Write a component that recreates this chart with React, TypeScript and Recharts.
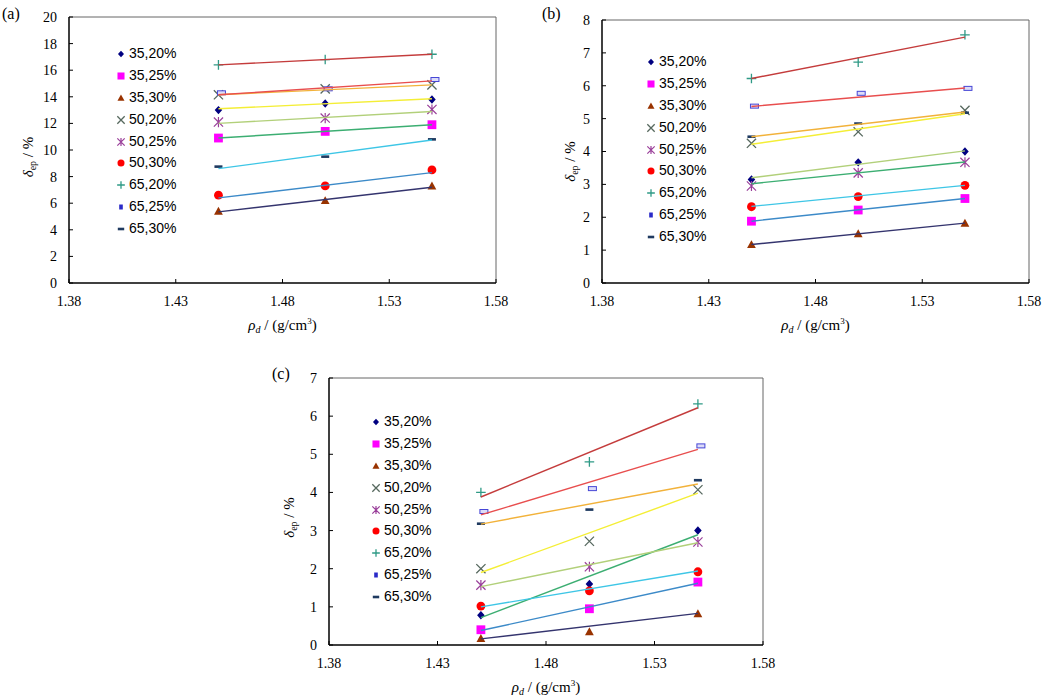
import React from 'react';
import { ScatterChart, Scatter, XAxis, YAxis, Legend, ReferenceLine } from 'recharts';

// ---------- data ----------
const seriesNames = ['35,20%', '35,25%', '35,30%', '50,20%', '50,25%', '50,30%', '65,20%', '65,25%', '65,30%'];
const densities = [1.45, 1.5, 1.55];
const trendEnds = [1.45, 1.55];
const xTicks = [1.38, 1.43, 1.48, 1.53, 1.58];
const yTicksA = [0, 2, 4, 6, 8, 10, 12, 14, 16, 18, 20];
const yTicksB = [0, 1, 2, 3, 4, 5, 6, 7, 8];
const yTicksC = [0, 1, 2, 3, 4, 5, 6, 7];

// measured values (rows follow seriesNames)
const pointsA = [
  [13.0, 13.5, 13.8],
  [10.9, 11.4, 11.9],
  [5.4, 6.2, 7.3],
  [14.15, 14.6, 14.9],
  [12.1, 12.4, 13.05],
  [6.6, 7.3, 8.5],
  [16.4, 16.8, 17.2],
  [14.3, 14.6, 15.3],
  [8.75, 9.5, 10.8],
];
const trendA = [
  [13.1, 13.85],
  [10.9, 11.9],
  [5.35, 7.2],
  [14.15, 14.9],
  [12.0, 12.9],
  [6.4, 8.3],
  [16.4, 17.2],
  [14.15, 15.2],
  [8.6, 10.75],
];
const pointsB = [
  [3.15, 3.67, 4.0],
  [1.88, 2.22, 2.57],
  [1.17, 1.5, 1.82],
  [4.25, 4.6, 5.25],
  [2.95, 3.35, 3.67],
  [2.32, 2.63, 2.97],
  [6.22, 6.72, 7.55],
  [5.38, 5.77, 5.92],
  [4.45, 4.85, 5.18],
];
const trendB = [
  [3.2, 4.02],
  [1.88, 2.57],
  [1.17, 1.82],
  [4.22, 5.15],
  [3.02, 3.68],
  [2.33, 2.97],
  [6.22, 7.48],
  [5.37, 5.93],
  [4.45, 5.2],
];
const pointsC = [
  [0.78, 1.6, 3.0],
  [0.4, 0.95, 1.65],
  [0.17, 0.35, 0.82],
  [2.0, 2.72, 4.07],
  [1.57, 2.05, 2.7],
  [1.02, 1.42, 1.92],
  [4.0, 4.8, 6.32],
  [3.5, 4.1, 5.22],
  [3.18, 3.55, 4.32],
];
const trendC = [
  [0.72, 2.89],
  [0.38, 1.62],
  [0.16, 0.83],
  [1.9, 3.98],
  [1.53, 2.68],
  [1.0, 1.94],
  [3.88, 6.22],
  [3.41, 5.13],
  [3.17, 4.22],
];

// ---------- styles ----------
const TC = {
  darkred: '#C43C3C',
  red: '#E84E4E',
  orange: '#F2B23A',
  yellow: '#F4EE36',
  lightgreen: '#B2D07A',
  green: '#3CAE72',
  cyan: '#3EC6E6',
  blue: '#3C8AC8',
  navy: '#34346E',
};
const trendColorsA = [TC.yellow, TC.green, TC.navy, TC.orange, TC.lightgreen, TC.blue, TC.darkred, TC.red, TC.cyan];
const trendColorsB = [TC.lightgreen, TC.blue, TC.navy, TC.yellow, TC.green, TC.cyan, TC.darkred, TC.red, TC.orange];
const trendColorsC = [TC.green, TC.blue, TC.navy, TC.yellow, TC.lightgreen, TC.cyan, TC.darkred, TC.red, TC.orange];

type Kind = 'diamond' | 'square' | 'triangle' | 'cross' | 'star' | 'circle' | 'plus' | 'rect' | 'dash';
const markerKinds: Kind[] = ['diamond', 'square', 'triangle', 'cross', 'star', 'circle', 'plus', 'rect', 'dash'];

function drawMarker(kind: Kind, cx: number, cy: number, s: number, legend = false) {
  switch (kind) {
    case 'diamond': {
      const h = 4.2 * s;
      return <path d={`M${cx},${cy - h}L${cx + h * 0.9},${cy}L${cx},${cy + h}L${cx - h * 0.9},${cy}Z`} fill="#000080" />;
    }
    case 'square': {
      const h = 4.4 * s;
      return <rect x={cx - h} y={cy - h} width={2 * h} height={2 * h} fill="#FF00FF" />;
    }
    case 'triangle': {
      const h = 4.4 * s;
      return <path d={`M${cx},${cy - h}L${cx + h},${cy + h * 0.8}L${cx - h},${cy + h * 0.8}Z`} fill="#993300" />;
    }
    case 'cross': {
      const h = 4.6 * s;
      return (
        <path d={`M${cx - h},${cy - h}L${cx + h},${cy + h}M${cx - h},${cy + h}L${cx + h},${cy - h}`} stroke="#56685E" strokeWidth={1.3} fill="none" />
      );
    }
    case 'star': {
      const h = 4.6 * s;
      return (
        <path
          d={`M${cx - h},${cy - h}L${cx + h},${cy + h}M${cx - h},${cy + h}L${cx + h},${cy - h}M${cx},${cy - h * 1.1}L${cx},${cy + h * 1.1}`}
          stroke="#9A3F9A"
          strokeWidth={1.2}
          fill="none"
        />
      );
    }
    case 'circle':
      return <circle cx={cx} cy={cy} r={4.4 * s} fill="#FF0000" />;
    case 'plus': {
      const h = 4.8 * s;
      return <path d={`M${cx - h},${cy}L${cx + h},${cy}M${cx},${cy - h}L${cx},${cy + h}`} stroke="#2F9A86" strokeWidth={1.3} fill="none" />;
    }
    case 'rect':
      if (legend) return <rect x={cx - 1.8} y={cy - 2.5} width={3.6} height={5} fill="#2A2AC8" />;
      return <rect x={cx - 1} y={cy - 2} width={8} height={4} fill="#DCDCF8" stroke="#4646D6" strokeWidth={1} />;
    case 'dash':
      return <rect x={cx - 4 * s} y={cy - 1.3} width={8 * s} height={2.6} fill="#1F3A60" />;
    default:
      return null;
  }
}

const makeShape = (kind: Kind) => (props: any) => {
  const { cx, cy } = props;
  if (cx == null || cy == null) return <g />;
  return <g>{drawMarker(kind, cx, cy, 1)}</g>;
};
const EmptyShape = () => <g />;

const serif = 'Liberation Serif, Times New Roman, serif';
const sans = 'Liberation Sans, Arial, sans-serif';
const serifStyle = { fontFamily: serif };

function LegendBox() {
  return (
    <div style={{ fontFamily: sans, fontSize: 14, color: '#000', lineHeight: '21.9px' }}>
      {seriesNames.map((n, i) => (
        <div key={n} style={{ display: 'flex', alignItems: 'center', height: 21.9, whiteSpace: 'nowrap' }}>
          <svg width={12} height={12} style={{ display: 'block', marginRight: 2 }}>
            {drawMarker(markerKinds[i], 6, 6, 0.8, true)}
          </svg>
          <span>{n}</span>
        </div>
      ))}
    </div>
  );
}

type PanelProps = {
  tag: string;
  points: number[][];
  trends: number[][];
  trendColors: string[];
  yMax: number;
  yTicks: number[];
  width: number;
  height: number;
  margin: { top: number; right: number; bottom: number; left: number };
  yAxisWidth: number;
  legendLeft: number;
  legendTop: number;
  yTitleOffset: number;
  yTitleDy: number;
  xTitleDy: number;
  tagX: number;
  tagY: number;
};

function Panel(p: PanelProps) {
  const xTitle = (props: any) => {
    const vb = props.viewBox || {};
    const cx = vb.x + vb.width / 2;
    const y = vb.y + p.xTitleDy;
    return (
      <text x={cx} y={y} textAnchor="middle" fontFamily={serif} style={serifStyle} fontSize={15} fill="#000">
        <tspan fontStyle="italic">ρ</tspan>
        <tspan fontStyle="italic" fontSize={10} dy={3}>d</tspan>
        <tspan dy={-3}> / (g/cm</tspan>
        <tspan fontSize={9} dy={-6}>3</tspan>
        <tspan dy={6}>)</tspan>
      </text>
    );
  };
  const yTitle = (props: any) => {
    const vb = props.viewBox || {};
    const cx = vb.x + vb.width - p.yTitleOffset + 5;
    const cy = vb.y + vb.height / 2 + p.yTitleDy;
    return (
      <text x={cx} y={cy} transform={`rotate(-90 ${cx} ${cy})`} textAnchor="middle" fontFamily={serif} style={serifStyle} fontSize={15} fill="#000">
        <tspan fontStyle="italic">δ</tspan>
        <tspan fontSize={10} dy={3}>ep</tspan>
        <tspan dy={-3}> / %</tspan>
      </text>
    );
  };
  const tickStyle = { fontFamily: serif, fontSize: 14, fill: '#000', style: serifStyle };
  return (
    <ScatterChart width={p.width} height={p.height} margin={p.margin} style={serifStyle}>
      <XAxis
        type="number"
        dataKey="x"
        domain={[1.38, 1.58]}
        ticks={xTicks}
        allowDataOverflow
        tickFormatter={(v: number) => v.toFixed(2)}
        tick={tickStyle}
        axisLine={{ stroke: '#000', strokeWidth: 1.5 }}
        tickLine={{ stroke: '#000' }}
        tickSize={-4}
        tickMargin={17}
        height={30}
        label={xTitle}
      />
      <YAxis
        type="number"
        dataKey="y"
        domain={[0, p.yMax]}
        ticks={p.yTicks}
        allowDataOverflow
        tick={tickStyle}
        axisLine={{ stroke: '#000', strokeWidth: 1.5 }}
        tickLine={{ stroke: '#000' }}
        tickSize={-4}
        tickMargin={16}
        width={p.yAxisWidth}
        label={yTitle}
      />
      <ReferenceLine y={p.yMax} stroke="#666" strokeWidth={1} />
      <ReferenceLine x={1.58} stroke="#666" strokeWidth={1} />
      {p.points.map((row, i) => (
        <Scatter
          key={'p' + i}
          name={seriesNames[i]}
          data={densities.map((x, j) => ({ x, y: row[j] }))}
          shape={makeShape(markerKinds[i])}
          isAnimationActive={false}
        />
      ))}
      {p.trends.map((row, i) => (
        <Scatter
          key={'t' + i}
          name={seriesNames[i] + ' trend'}
          data={trendEnds.map((x, j) => ({ x, y: row[j] }))}
          line={{ stroke: p.trendColors[i], strokeWidth: 1.4 }}
          lineType="joint"
          shape={EmptyShape}
          legendType="none"
          isAnimationActive={false}
        />
      ))}
      <Legend
        layout="vertical"
        align="center"
        verticalAlign="middle"
        content={() => <LegendBox />}
        wrapperStyle={{ left: p.legendLeft, top: p.legendTop, width: 'auto', height: 'auto' }}
      />
      <text x={p.tagX} y={p.tagY} fontFamily={serif} style={serifStyle} fontSize={16} fill="#000">
        {p.tag}
      </text>
    </ScatterChart>
  );
}

export default function App() {
  return (
    <div style={{ position: 'absolute', left: 0, top: 0, width: 1052, height: 699, background: '#fff', overflow: 'hidden', fontFamily: serif }}>
      <div style={{ position: 'absolute', left: 0, top: 0 }}>
        <Panel
          tag="(a)"
          points={pointsA}
          trends={trendA}
          trendColors={trendColorsA}
          yMax={20}
          yTicks={yTicksA}
          width={520}
          height={345}
          margin={{ top: 17, right: 24, bottom: 32, left: 0 }}
          yAxisWidth={69}
          legendLeft={115}
          legendTop={43}
          yTitleOffset={41}
          yTitleDy={7}
          xTitleDy={47}
          tagX={2}
          tagY={19}
        />
      </div>
      <div style={{ position: 'absolute', left: 520, top: 0 }}>
        <Panel
          tag="(b)"
          points={pointsB}
          trends={trendB}
          trendColors={trendColorsB}
          yMax={8}
          yTicks={yTicksB}
          width={532}
          height={345}
          margin={{ top: 20, right: 23, bottom: 32, left: 0 }}
          yAxisWidth={82}
          legendLeft={125}
          legendTop={51}
          yTitleOffset={32}
          yTitleDy={10}
          xTitleDy={47}
          tagX={22}
          tagY={19}
        />
      </div>
      <div style={{ position: 'absolute', left: 260, top: 340 }}>
        <Panel
          tag="(c)"
          points={pointsC}
          trends={trendC}
          trendColors={trendColorsC}
          yMax={7}
          yTicks={yTicksC}
          width={520}
          height={359}
          margin={{ top: 38, right: 17, bottom: 24, left: 0 }}
          yAxisWidth={69}
          legendLeft={110}
          legendTop={71}
          yTitleOffset={40}
          yTitleDy={6}
          xTitleDy={47}
          tagX={12}
          tagY={39}
        />
      </div>
    </div>
  );
}
